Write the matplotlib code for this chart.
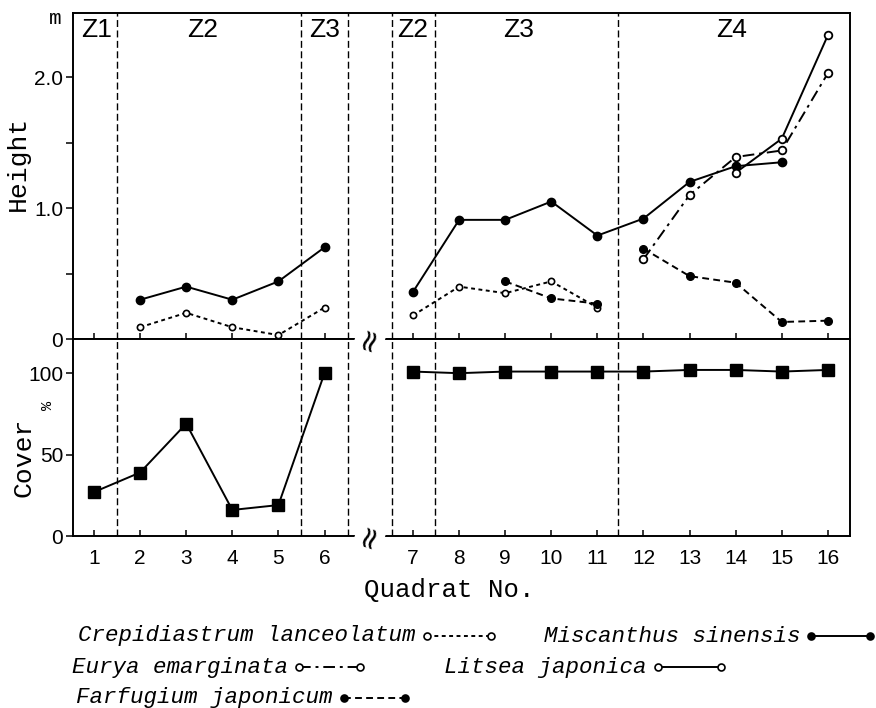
import numpy as np
import matplotlib.pyplot as plt
from matplotlib.lines import Line2D

nan = np.nan

# quadrats 1-6 (left block) and 7-16 (right block), drawn with a break between
quadrats = list(range(1, 17))
tick_labels = [str(q) for q in quadrats]
gap = 0.92  # extra space for the axis break between 6 and 7

# plant height (m)
miscanthus = [nan, 0.30, 0.40, 0.30, 0.44, 0.70,
              0.36, 0.91, 0.91, 1.05, 0.79, 0.92, 1.20, 1.32, 1.35, nan]
crepidiastrum = [nan, 0.09, 0.20, 0.09, 0.03, 0.24,
                 0.18, 0.40, 0.35, 0.44, 0.24, nan, nan, nan, nan, nan]
farfugium_z3 = [nan, nan, nan, nan, nan, nan,
                nan, nan, 0.44, 0.31, 0.27, nan, nan, nan, nan, nan]
farfugium_z4 = [nan, nan, nan, nan, nan, nan,
                nan, nan, nan, nan, nan, 0.69, 0.48, 0.43, 0.13, 0.14]
eurya = [nan, nan, nan, nan, nan, nan,
         nan, nan, nan, nan, nan, 0.61, 1.10, 1.39, 1.44, 2.03]
litsea = [nan, nan, nan, nan, nan, nan,
          nan, nan, nan, nan, nan, nan, nan, 1.27, 1.53, 2.32]

# vegetation cover (%)
cover = [27, 39, 69, 16, 19, 100, 101, 100, 101, 101, 101, 101, 102, 102, 101, 102]

# zone borders and labels (in quadrat units, left and right of the break)
borders_left = [1.5, 5.5, 6.5]
borders_right = [6.54, 7.48, 11.45]
zones_left = ['Z1', 'Z2', 'Z3']
zone_x_left = [1.05, 3.35, 6.0]
zones_right = ['Z2', 'Z3', 'Z4']
zone_x_right = [7.0, 9.3, 13.9]

x = np.array([q if q <= 6 else q + gap for q in quadrats])
left = slice(0, 6)
right = slice(6, 16)

mono = ['Liberation Mono', 'DejaVu Sans Mono']
narrow = ['Liberation Sans Narrow', 'Liberation Sans']

W, H = 876, 708
fig = plt.figure(figsize=(8.76, 7.08), dpi=100)
ax1 = fig.add_axes([73 / W, 1 - 339 / H, 777 / W, 326 / H])
ax2 = fig.add_axes([73 / W, 1 - 536 / H, 777 / W, 197 / H])

k = dict(color='black', lw=1.4)
for part in (left, right):
    ax1.plot(x[part], np.array(miscanthus)[part], '-', marker='o', ms=6, **k)
    ax1.plot(x[part], np.array(crepidiastrum)[part], marker='o', ms=4.5,
             mfc='white', mew=1.2, dashes=(2, 1.8), **k)
    ax2.plot(x[part], np.array(cover)[part], '-', marker='s', ms=8.5, **k)
for f in (farfugium_z3, farfugium_z4):
    ax1.plot(x, f, marker='o', ms=5.5, dashes=(3.5, 2.2), **k)
ax1.plot(x, eurya, marker='o', ms=5.5, mfc='white', mew=1.3,
         dashes=(6, 2.5, 1.5, 2.5), **k)
ax1.plot(x, litsea, '-', marker='o', ms=5.5, mfc='white', mew=1.3, **k)

for ax in (ax1, ax2):
    for b in borders_left:
        ax.axvline(b, color='black', lw=1, dashes=(5, 2.5))
    for b in borders_right:
        ax.axvline(b + gap, color='black', lw=1, dashes=(5, 2.5))
    ax.set_xlim(0.544, 17.40)
    ax.set_xticks(x)
    ax.tick_params(axis='x', direction='in', length=4, width=1.1, pad=9)
    ax.tick_params(axis='y', direction='out', length=5, width=1.1, pad=2)
    for s in ax.spines.values():
        s.set_linewidth(1.4)

# axis break marks
for yb in (1 - 339 / H, 1 - 536 / H):
    fig.text(370 / W, yb, '≈', rotation=72, ha='center', va='center',
             fontsize=22, fontfamily='DejaVu Sans', zorder=5,
             bbox=dict(boxstyle='square,pad=0', fc='white', ec='none'))

ax1.set_ylim(0, 2.49)
ax1.set_yticks([0, 1, 2])
ax1.set_yticklabels(['0', '1.0', '2.0'], fontfamily=narrow, fontsize=15)
ax1.set_yticks([0.5, 1.5], minor=True)
ax1.tick_params(axis='y', which='minor', direction='out', length=5, width=1.1)
ax1.set_xticklabels([])

ax2.set_ylim(0, 121)
ax2.set_yticks([0, 50, 100])
ax2.set_yticklabels(['0', '50', '100'], fontfamily=narrow, fontsize=15)
ax2.set_xticklabels(tick_labels, fontfamily=narrow, fontsize=15)

for name, zx in zip(zones_left, zone_x_left):
    ax1.text(zx, 2.36, name, ha='center', va='center', fontsize=19, fontfamily=narrow)
for name, zx in zip(zones_right, zone_x_right):
    ax1.text(zx + gap, 2.36, name, ha='center', va='center', fontsize=19, fontfamily=narrow)

fig.text(55 / W, 1 - 19 / H, 'm', ha='center', va='center', fontsize=15, fontfamily=mono)
fig.text(18 / W, 1 - 163 / H, 'Height', rotation=90, ha='center', va='center',
         fontsize=19, fontfamily=mono)
fig.text(24 / W, 1 - 457 / H, 'Cover', rotation=90, ha='center', va='center',
         fontsize=19, fontfamily=mono)
fig.text(48 / W, 1 - 405 / H, '%', rotation=90, ha='center', va='center',
         fontsize=11, fontfamily=mono)
fig.text(449 / W, 1 - 590 / H, 'Quadrat No.', ha='center', va='center',
         fontsize=18.5, fontfamily=mono)

# legend, drawn by hand as in the original figure
legend = [
    ('Crepidiastrum lanceolatum', 427, 491, 636, 'white', (2, 1.8)),
    ('Miscanthus sinensis', 811, 870, 636, 'black', None),
    ('Eurya emarginata', 299, 360, 667, 'white', (6, 2.5, 1.5, 2.5)),
    ('Litsea japonica', 658, 721, 667, 'white', None),
    ('Farfugium japonicum', 344, 405, 698, 'black', (3.5, 2.2)),
]
for label, x0, x1, y, mfc, dash in legend:
    fig.text((x0 - 11) / W, 1 - y / H, label, ha='right', va='center',
             fontsize=16.2, fontfamily=mono, style='italic')
    ln = Line2D([x0 / W, x1 / W], [1 - y / H, 1 - y / H], color='black', lw=1.4,
                marker='o', ms=5, mfc=mfc, mew=1.2, transform=fig.transFigure)
    if dash:
        ln.set_dashes(dash)
    fig.add_artist(ln)

fig.savefig('out.png', dpi=100)
